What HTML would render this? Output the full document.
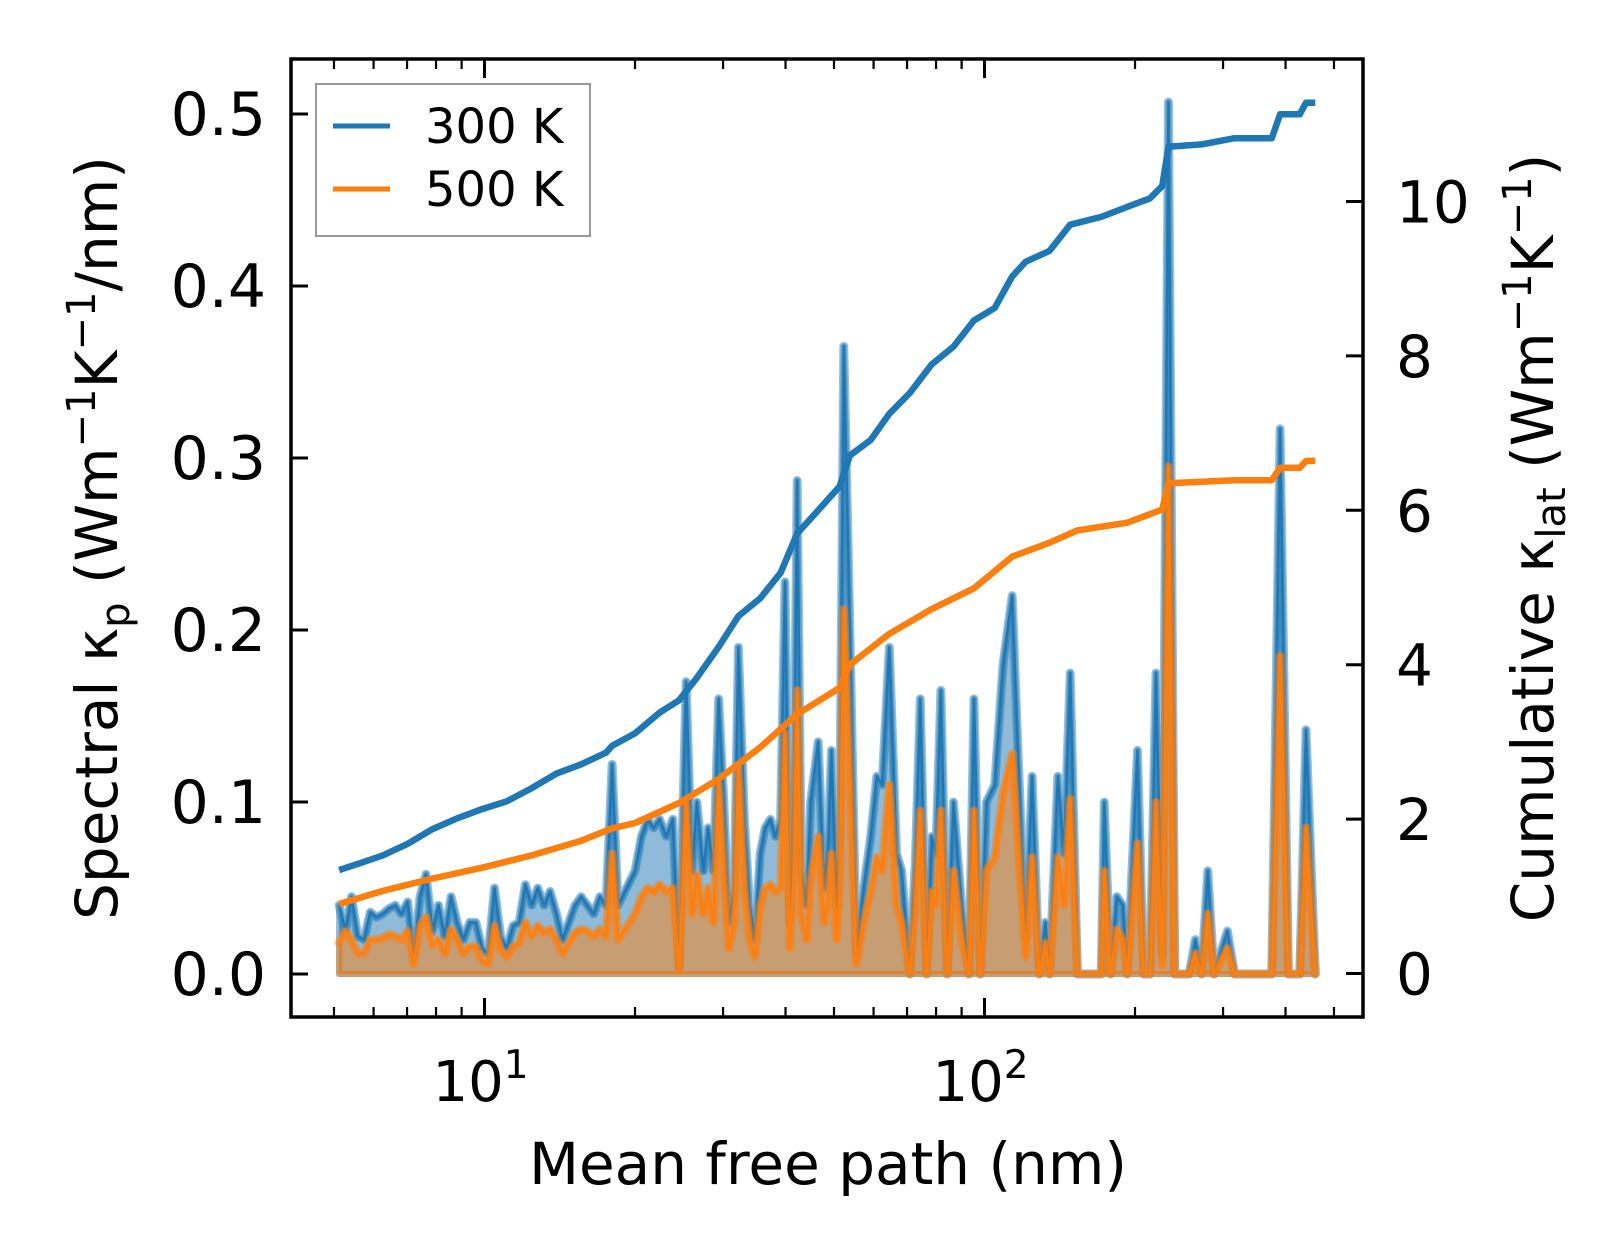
<!DOCTYPE html>
<html><head><meta charset="utf-8"><style>
html,body{margin:0;padding:0;background:#fff}
svg{display:block;font-family:"DejaVu Sans","Liberation Sans",sans-serif}
</style></head><body>
<svg id="chart" width="1623" height="1254" viewBox="0 0 1623 1254" xmlns="http://www.w3.org/2000/svg">
<rect x="0" y="0" width="1623" height="1254" fill="#fff"/>
<g id="plot"></g>
<g id="axes"></g>
</svg>
<script>
const mfp = [5.12,5.27,5.42,5.58,5.74,5.91,6.08,6.26,6.44,6.63,6.82,7.02,7.22,7.43,7.64,7.87,8.09,8.33,8.57,8.82,9.07,9.34,9.61,9.89,10.17,10.47,10.77,11.08,11.40,11.73,12.07,12.42,12.78,13.15,13.53,13.93,14.33,14.74,15.17,15.61,16.06,16.53,17.01,17.50,18.0,18.5,20.0,20.6,21.2,21.8,22.4,23.1,23.8,24.5,25.3,26.0,26.6,27.4,28.0,28.7,29.4,30.1,30.8,31.6,32.2,33.1,33.9,34.7,35.6,36.4,37.3,38.2,39.1,39.9,40.8,41.6,42.2,43.0,44.1,44.9,46.5,47.8,48.7,49.4,50.6,51.3,52.3,53.8,55.4,57.3,59.2,60.9,62.4,64.5,66.7,68.3,70.9,72.7,74.4,76.6,78.4,79.9,81.8,84.2,86.7,90.0,93.1,95.3,98.1,100.9,104.8,108.9,113.6,117.0,120.9,124.5,128.7,132.4,134.9,140.2,144.2,148.4,153.4,157.2,171.2,173.6,178.7,183.9,189.2,192.9,202.3,208.1,214.2,220.3,226.7,233.3,240.1,256.6,264.0,271.7,279.6,287.7,306.0,316.4,375.5,390.1,405.3,427.1,439.5,458.7];
const spec300 = [.040,.025,.045,.022,.020,.036,.033,.035,.038,.040,.035,.042,.010,.045,.058,.025,.040,.022,.045,.030,.020,.030,.030,.015,.012,.050,.022,.015,.028,.030,.052,.040,.050,.040,.048,.035,.020,.030,.040,.045,.040,.035,.045,.040,.122,.040,.060,.080,.090,.085,.090,.080,.090,.003,.170,.060,.100,.060,.085,.060,.160,.100,.030,.050,.190,.090,.040,.020,.070,.085,.090,.080,.090,.228,.030,.110,.287,.060,.040,.100,.135,.050,.075,.130,.040,.080,.365,.200,.012,.050,.080,.115,.110,.190,.070,.060,.000,.065,.160,.000,.080,.070,.165,.000,.100,.040,.000,.160,.000,.100,.110,.180,.220,.120,.020,.115,.000,.030,.000,.115,.070,.175,.000,.000,.000,.100,.000,.045,.040,.000,.130,.000,.000,.175,.010,.507,.000,.000,.020,.000,.060,.000,.025,.000,.000,.317,.000,.000,.142,.000];
const spec500 = [.018,.025,.020,.012,.012,.020,.020,.021,.023,.022,.020,.025,.006,.028,.033,.017,.020,.012,.026,.020,.012,.016,.016,.008,.006,.028,.014,.010,.016,.018,.030,.022,.028,.024,.026,.020,.012,.018,.024,.026,.025,.022,.026,.022,.070,.020,.035,.045,.050,.048,.052,.048,.050,.002,.100,.035,.058,.035,.050,.030,.110,.060,.015,.030,.120,.050,.020,.010,.040,.050,.052,.048,.050,.140,.015,.060,.165,.035,.020,.055,.080,.030,.045,.070,.020,.050,.212,.110,.006,.030,.048,.068,.060,.110,.040,.030,.000,.040,.095,.000,.048,.040,.095,.000,.060,.020,.000,.095,.000,.060,.068,.105,.128,.070,.010,.068,.000,.018,.000,.068,.040,.102,.000,.000,.000,.060,.000,.026,.020,.000,.076,.000,.000,.100,.005,.295,.000,.000,.012,.000,.035,.000,.015,.000,.000,.185,.000,.000,.085,.000];
const cumX300 = [5.12,5.58,6.26,7.02,7.87,8.82,9.89,11.08,12.42,13.93,15.61,17.50,18.0,20.0,22.4,24.5,26.6,29.4,32.2,35.6,39.1,42.2,46.5,51.3,53.8,59.2,64.5,70.9,78.4,86.7,95.3,104.8,113.6,120.9,134.9,148.4,171.2,192.9,214.2,226.7,233.3,271.7,316.4,375.5,390.1,427.1,439.5,458.7];
const cum300 = [1.34,1.42,1.53,1.68,1.87,2.01,2.13,2.23,2.40,2.59,2.71,2.86,2.95,3.11,3.38,3.54,3.83,4.23,4.63,4.86,5.19,5.70,6.00,6.31,6.71,6.91,7.25,7.52,7.89,8.12,8.46,8.62,9.03,9.22,9.36,9.70,9.80,9.93,10.04,10.20,10.71,10.74,10.82,10.82,11.13,11.13,11.28,11.28];
const cumX500 = [5.12,6.26,7.87,9.89,12.42,15.61,18.0,20.0,24.5,29.4,35.6,42.2,51.3,53.8,64.5,78.4,95.3,113.6,134.9,153.4,192.9,226.7,233.3,316.4,375.5,390.1,427.1,439.5,458.7];
const cum500 = [0.90,1.07,1.23,1.37,1.53,1.72,1.88,1.95,2.21,2.52,2.93,3.36,3.70,4.00,4.40,4.72,4.99,5.40,5.58,5.74,5.84,6.01,6.35,6.39,6.39,6.55,6.55,6.64,6.64];
const yTicksLeft = [0.0,0.1,0.2,0.3,0.4,0.5];
const yTickLabelsLeft = ["0.0","0.1","0.2","0.3","0.4","0.5"];
const yTicksRight = [0,2,4,6,8,10];
const xMajor = [10,100];
const xMajorExp = ["1","2"];
const xMinor = [5,6,7,8,9,20,30,40,50,60,70,80,90,200,300,400,500];

const L=291,R=1363,T=59,B=1017;
const xs = v => 484.5 + 500*(Math.log10(v)-1);
const yl = v => 974 - 1720*v;
const yr = v => 973.5 - 77.2*v;
const NS="http://www.w3.org/2000/svg";
const plot=document.getElementById('plot'), axes=document.getElementById('axes');
function mk(tag, attrs, parent){const e=document.createElementNS(NS,tag);for(const k in attrs)e.setAttribute(k,attrs[k]);parent.appendChild(e);return e;}

function spectral(vals, color, name){
  let line = mfp.map((x,i)=>xs(x).toFixed(1)+','+yl(vals[i]).toFixed(1));
  let poly = line.concat([xs(mfp[mfp.length-1]).toFixed(1)+','+yl(0), xs(mfp[0]).toFixed(1)+','+yl(0)]);
  const f = mk('polygon',{points:poly.join(' '),fill:color,'fill-opacity':0.5,stroke:color,'stroke-opacity':0.5,'stroke-width':6,'stroke-linejoin':'round'},plot);
  
  
  const h = mk('polyline',{points:line.join(' '),fill:'none',stroke:color,'stroke-opacity':0.45,'stroke-width':9,'stroke-linejoin':'round','stroke-linecap':'round'},plot);
  
  
  const l = mk('polyline',{points:line.join(' '),fill:'none',stroke:color,'stroke-width':2.5,'stroke-linejoin':'round'},plot);
  
  
}
spectral(spec300,'#1f77b4','spectral-300k');
spectral(spec500,'#ff7f0e','spectral-500k');
function cumLine(xsArr, vals, color, name){
  const pts = xsArr.map((x,i)=>xs(x).toFixed(1)+','+yr(vals[i]).toFixed(1)).join(' ');
  const c = mk('polyline',{points:pts,fill:'none',stroke:color,'stroke-width':6.5,'stroke-linejoin':'round'},plot);
  
  
}
cumLine(cumX300,cum300,'#1f77b4','cumulative-300k');
cumLine(cumX500,cum500,'#ff7f0e','cumulative-500k');

yTicksLeft.forEach((v,i)=>{
  const y=yl(v);
  const t=mk('line',{x1:L,x2:L+17,y1:y,y2:y,stroke:'#000','stroke-width':3},axes);
  
  
  const tx=mk('text',{x:266,y:y+21,'text-anchor':'end','font-size':60},axes);
  tx.textContent=yTickLabelsLeft[i];
  
  
});
yTicksRight.forEach(v=>{
  const y=yr(v);
  const t=mk('line',{x1:R-17,x2:R,y1:y,y2:y,stroke:'#000','stroke-width':3},axes);
  
  
  const tx=mk('text',{x:R+33,y:y+21,'text-anchor':'start','font-size':58},axes);
  tx.textContent=String(v);
  
  
});
xMajor.forEach((v,i)=>{
  const x=xs(v);
  [[B,B-19],[T,T+19]].forEach(p=>{
    const t=mk('line',{x1:x,x2:x,y1:p[0],y2:p[1],stroke:'#000','stroke-width':3},axes);
    
    
  });
  const tx=mk('text',{x:x-4,y:1101,'text-anchor':'middle','font-size':56},axes);
  
  
  const a=document.createElementNS(NS,'tspan');a.textContent='10';tx.appendChild(a);
  const b=document.createElementNS(NS,'tspan');b.setAttribute('font-size','39');b.setAttribute('dy','-23');b.textContent=xMajorExp[i];tx.appendChild(b);
});
xMinor.forEach(v=>{
  const x=xs(v);
  [[B,B-10],[T,T+10]].forEach(p=>{
    const t=mk('line',{x1:x,x2:x,y1:p[0],y2:p[1],stroke:'#000','stroke-width':2.2},axes);
    
    
  });
});
</script>
<svg style="position:absolute;left:0;top:0" width="1623" height="1254" viewBox="0 0 1623 1254" xmlns="http://www.w3.org/2000/svg" font-family="DejaVu Sans, Liberation Sans, sans-serif">
<rect x="291" y="59" width="1072" height="958" fill="none" stroke="#000" stroke-width="3.5"/>
<g>
<rect x="316" y="84" width="274" height="152" fill="#fff" fill-opacity="0.85" stroke="#999" stroke-width="2"/>
<line x1="333" y1="126" x2="390" y2="126" stroke="#1f77b4" stroke-width="5"/>
<text x="425" y="143" font-size="48">300 K</text>
<line x1="333" y1="189" x2="390" y2="189" stroke="#ff7f0e" stroke-width="5"/>
<text x="425" y="206" font-size="48">500 K</text>
</g>
<text x="828" y="1184" text-anchor="middle" font-size="58">Mean free path (nm)</text>
<text transform="translate(117,538) rotate(-90)" text-anchor="middle" font-size="58">Spectral κ<tspan font-size="40" dy="12">p</tspan><tspan dy="-12"> (Wm</tspan><tspan font-size="40" dy="-22">−1</tspan><tspan dy="22">K</tspan><tspan font-size="40" dy="-22">−1</tspan><tspan dy="22">/nm)</tspan></text>
<text transform="translate(1553,538) rotate(-90)" text-anchor="middle" font-size="58">Cumulative κ<tspan font-size="40" dy="12">lat</tspan><tspan dy="-12"> (Wm</tspan><tspan font-size="40" dy="-22">−1</tspan><tspan dy="22">K</tspan><tspan font-size="40" dy="-22">−1</tspan><tspan dy="22">)</tspan></text>
</svg>
</body></html>
